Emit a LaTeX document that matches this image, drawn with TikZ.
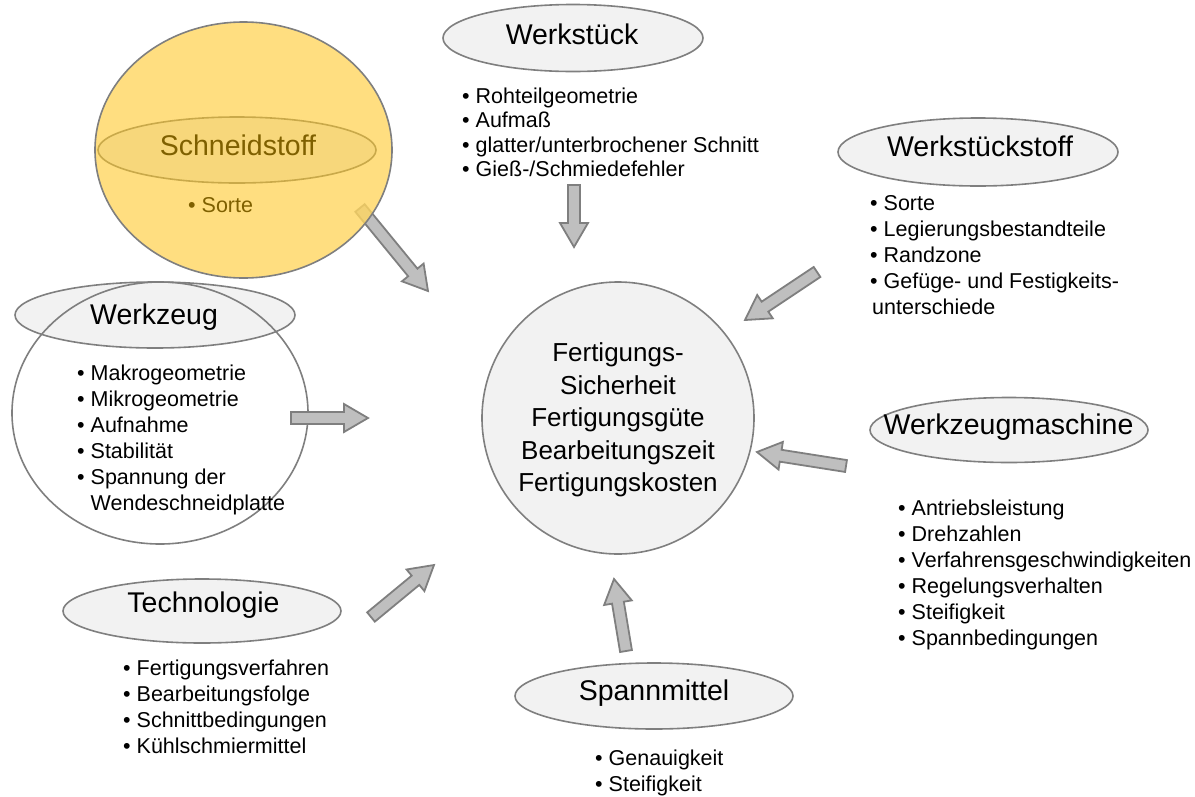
\documentclass[tikz,border=0pt]{standalone}
\usepackage{fontspec}
\setmainfont{Liberation Sans}
\usetikzlibrary{calc}
\definecolor{linegray}{HTML}{7F7F7F}
\definecolor{arrowfill}{HTML}{BFBFBF}
\definecolor{ellfill}{HTML}{F2F2F2}
\definecolor{goldfill}{HTML}{FFD660}
\definecolor{goldin}{HTML}{F7D77B}
\definecolor{goldline}{HTML}{C9A94A}
\definecolor{goldtext}{HTML}{7F6000}
\tikzset{
  ell/.style={draw=linegray, line width=1.6pt, fill=ellfill},
  titletext/.style={inner sep=0pt, font=\fontsize{28.5}{34}\selectfont, text height=0.716em, text depth=0pt, anchor=center},
  blist/.style={inner sep=0pt, anchor=base west, font=\fontsize{21.5}{26}\selectfont},
  blockarr/.style={draw=linegray, line width=1.8pt, fill=arrowfill, line join=miter},
}
\newcommand\blkarrow[2]{%
  \coordinate (bah) at ($(#2)!24pt!(#1)$);
  \draw[blockarr] ($(#1)!6pt!90:(#2)$) -- ($(bah)!6pt!-90:(#1)$) -- ($(bah)!14pt!-90:(#1)$) -- (#2) -- ($(bah)!14pt!90:(#1)$) -- ($(bah)!6pt!90:(#1)$) -- ($(#1)!6pt!-90:(#2)$) -- cycle;}
\begin{document}
\begin{tikzpicture}[x=1pt,y=-1pt]
\useasboundingbox (0,0) rectangle (1195,796);
% arrow end points
\coordinate (a1s) at (360,208); \coordinate (a1e) at (428,291);
\coordinate (a2s) at (574,185); \coordinate (a2e) at (574,247);
\coordinate (a3s) at (817,272); \coordinate (a3e) at (745,320);
\coordinate (a4s) at (846,466); \coordinate (a4e) at (757,452);
\coordinate (a5s) at (626,651); \coordinate (a5e) at (614,579);
\coordinate (a6s) at (371,617); \coordinate (a6e) at (434,565);
\coordinate (a7s) at (291,418); \coordinate (a7e) at (368,418);

% Werkzeug
\draw[ell] (155,315) ellipse [x radius=140, y radius=33];
\draw[draw=linegray, line width=1.6pt] (160,413) ellipse [x radius=148, y radius=131];

% Schneidstoff
\blkarrow{a1s}{a1e}
\draw[draw=linegray, line width=1.6pt, fill=goldfill, fill opacity=0.8] (243.5,150) ellipse [x radius=148.5, y radius=128];
\draw[draw=goldline, line width=1.6pt, fill=goldin] (237,150) ellipse [x radius=139, y radius=33];

% other ellipses
\draw[ell] (573,38) ellipse [x radius=130, y radius=33.5];
\draw[ell] (978,152) ellipse [x radius=140, y radius=34];
\draw[ell] (1009,430) ellipse [x radius=139, y radius=32.5];
\draw[ell] (202,611) ellipse [x radius=139, y radius=32];
\draw[ell] (654,696) ellipse [x radius=139, y radius=33];

% central circle
\draw[ell] (618,418) circle [radius=136];

% arrows
\blkarrow{a2s}{a2e}
\blkarrow{a3s}{a3e}
\blkarrow{a4s}{a4e}
\blkarrow{a5s}{a5e}
\blkarrow{a6s}{a6e}
\blkarrow{a7s}{a7e}

% titles
\node[titletext] (t-wst) at (572,40.5) {Werkstück};
\node[titletext] (t-wsts) at (980,152.5) {Werkstückstoff};
\node[titletext] (t-wzm) at (1008.5,431) {Werkzeugmaschine};
\node[titletext] (t-tech) at (203.5,609) {Technologie};
\node[titletext] (t-spm) at (654,697) {Spannmittel};
\node[titletext, text=goldtext] (t-sst) at (238,152) {Schneidstoff};
\node[titletext] (t-wz) at (154,321) {Werkzeug};

% centre
\node[inner sep=0pt, align=center, font=\fontsize{26}{32.5}\selectfont] (centre) at (618,420)
  {Fertigungs-\\Sicherheit\\Fertigungsgüte\\Bearbeitungszeit\\Fertigungskosten};

% lists
\node[blist, font=\fontsize{21.5}{24.5}\selectfont] (l-wst) at (462,103) {\begin{tabular}[t]{@{}l@{}}• Rohteilgeometrie\\• Aufmaß\\• glatter/unterbrochener Schnitt\\• Gieß-/Schmiedefehler\end{tabular}};
\node[blist] (l-wsts) at (870,210) {\begin{tabular}[t]{@{}l@{}}• Sorte\\• Legierungsbestandteile\\• Randzone\\• Gefüge- und Festigkeits-\\\hspace{2pt}unterschiede\end{tabular}};
\node[blist] (l-wzm) at (898,515) {\begin{tabular}[t]{@{}l@{}}• Antriebsleistung\\• Drehzahlen\\• Verfahrensgeschwindigkeiten\\• Regelungsverhalten\\• Steifigkeit\\• Spannbedingungen\end{tabular}};
\node[blist] (l-tech) at (123,675) {\begin{tabular}[t]{@{}l@{}}• Fertigungsverfahren\\• Bearbeitungsfolge\\• Schnittbedingungen\\• Kühlschmiermittel\end{tabular}};
\node[blist] (l-spm) at (595,765) {\begin{tabular}[t]{@{}l@{}}• Genauigkeit\\• Steifigkeit\end{tabular}};
\node[blist] (l-wz) at (77,380) {\begin{tabular}[t]{@{}l@{}}• Makrogeometrie\\• Mikrogeometrie\\• Aufnahme\\• Stabilität\\• Spannung der\\\phantom{• }Wendeschneidplatte\end{tabular}};
\node[blist, text=goldtext] (l-sst) at (188,212) {• Sorte};
\end{tikzpicture}
\end{document}
